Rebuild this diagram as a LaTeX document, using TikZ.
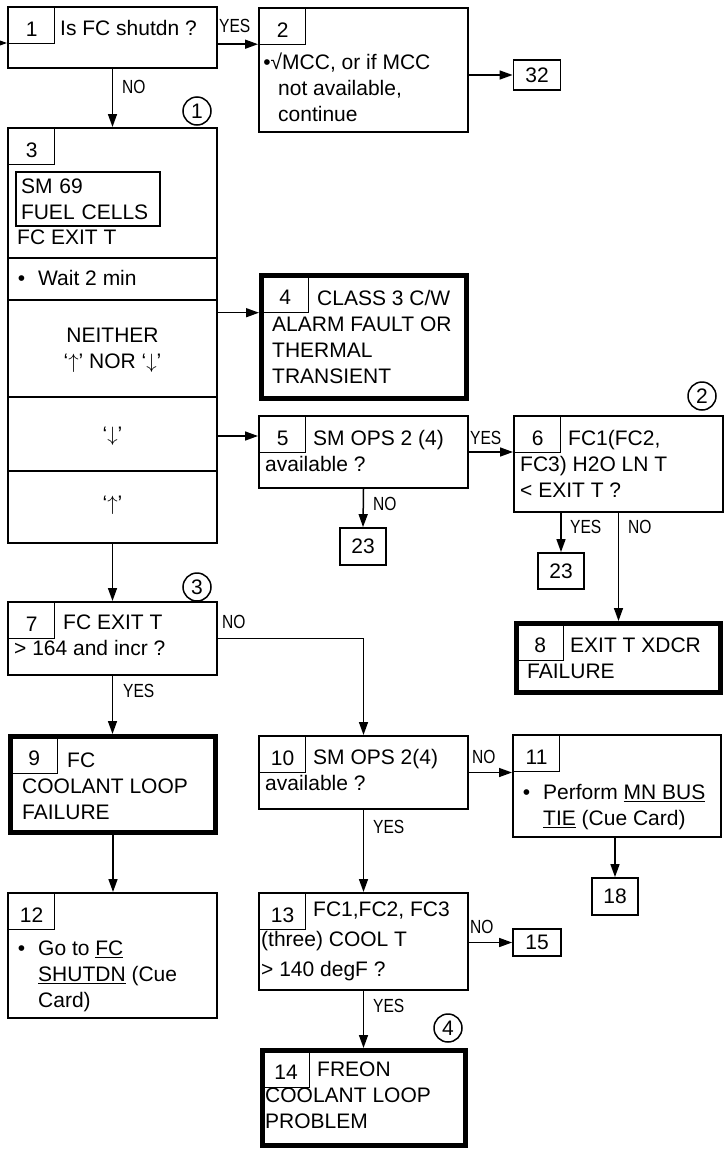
\documentclass[tikz,border=0pt]{standalone}
\usepackage{fontspec}
\setmainfont{Liberation Sans}
\newfontfamily\lblfont[FakeStretch=0.82]{Liberation Sans}
\usetikzlibrary{arrows.meta}

\begin{document}
\begin{tikzpicture}[x=1pt, y=-1pt,
  font=\fontsize{21}{26}\selectfont,
  box/.style={draw, line width=2pt, inner sep=0pt},
  endbox/.style={draw, line width=5pt, inner sep=0pt},
  num/.style={draw, line width=1.2pt, anchor=north west, minimum width=46pt, minimum height=36pt, inner sep=0pt, text height=21pt, text depth=0pt},
  goto/.style={draw, line width=1.8pt, minimum width=46pt, minimum height=36pt, inner sep=0pt},
  txt/.style={anchor=north west, inner sep=0pt, align=left},
  lbl/.style={anchor=base west, inner sep=0pt, font=\lblfont\fontsize{19}{19}\selectfont},
  marker/.style={draw, circle, line width=1.5pt, minimum size=28pt, inner sep=0pt},
  arrow/.style={-{Triangle[length=13pt,width=9pt]}, line width=1.5pt}
]
  \useasboundingbox (0,0) rectangle (727,1154);

  \node[box, minimum width=209pt, minimum height=61pt]  (b1)  at (112.5,37.5)  {};
  \node[box, minimum width=209pt, minimum height=124pt] (b2)  at (363.5,70)    {};
  \node[box, minimum width=209pt, minimum height=415pt] (b3)  at (112.5,335.5) {};
  \node[endbox, minimum width=205pt, minimum height=123pt] (b4) at (364,337)  {};
  \node[box, minimum width=209pt, minimum height=72pt]  (b5)  at (363.5,452)   {};
  \node[box, minimum width=209pt, minimum height=96pt]  (b6)  at (618.5,464)   {};
  \node[box, minimum width=209pt, minimum height=73pt]  (b7)  at (112.5,638.5) {};
  \node[endbox, minimum width=204pt, minimum height=69pt] (b8) at (618.5,658) {};
  \node[endbox, minimum width=205pt, minimum height=96pt] (b9) at (113,784.5) {};
  \node[box, minimum width=209pt, minimum height=73pt]  (b10) at (363.5,772.5) {};
  \node[box, minimum width=208pt, minimum height=102pt] (b11) at (617,786)     {};
  \node[box, minimum width=209pt, minimum height=125pt] (b12) at (112.5,955.5) {};
  \node[box, minimum width=209pt, minimum height=97pt]  (b13) at (363.5,941.5) {};
  \node[endbox, minimum width=203pt, minimum height=95pt] (b14) at (364,1098) {};

  \node[num] (n1)  at (8,7)         {1};
  \node[num] (n2)  at (259,8)       {2};
  \node[num] (n3)  at (8,128)       {3};
  \node[num] (n4)  at (261.5,275.5) {4};
  \node[num] (n5)  at (259,416)     {5};
  \node[num] (n6)  at (514,416)     {6};
  \node[num] (n7)  at (8,602)       {7};
  \node[num] (n8)  at (516.5,623.5) {8};
  \node[num] (n9)  at (10.5,736.5)  {9};
  \node[num] (n10) at (259,736)     {10};
  \node[num] (n11) at (513,735)     {11};
  \node[num] (n12) at (8,893)       {12};
  \node[num] (n13) at (259,893)     {13};
  \node[num] (n14) at (262.5,1050.5){14};

  \node[goto, minimum width=47pt, minimum height=30pt] (g32) at (537,75) {32};
  \node[goto, minimum height=37pt] (g23a) at (363,546.5) {23};
  \node[goto] (g23b) at (561,571) {23};
  \node[goto, minimum height=37pt] (g18) at (615,896.5) {18};
  \node[goto, minimum width=48pt, minimum height=27pt] (g15) at (537,942.5) {15};

  \node[marker] (r1) at (197,111)  {1};
  \node[marker] (r2) at (702,396)  {2};
  \node[marker] (r3) at (197,587)  {3};
  \node[marker] (r4) at (448,1028) {4};

  \node[txt] (t1)  at (60,20)   {Is FC shutdn ?};
  \node[txt] (t2)  at (278,53)  {\hspace*{4pt}\llap{•√}MCC, or if MCC\\not available,\\continue};
  \node[draw, line width=2pt, anchor=north west, align=left, text width=134pt, inner xsep=5pt, inner ysep=0pt, minimum height=54pt] (sm) at (15,171) {SM 69\\FUEL CELLS};
  \node[txt] (t3a) at (17,230)  {FC EXIT T};
  \node[txt] (t3b) at (38,270)  {\llap{•\hspace{13pt}}Wait 2 min};
  \node[txt, anchor=north, align=center] (t3c) at (112.5,328) {NEITHER\\‘$\uparrow$’ NOR ‘$\downarrow$’};
  \node (t3d) at (112.5,436) {‘$\downarrow$’};
  \node (t3e) at (112.5,505) {‘$\uparrow$’};
  \node[txt] (t4)  at (272,290) {\hspace*{45pt}CLASS 3 C/W\\ALARM FAULT OR\\THERMAL\\TRANSIENT};
  \node[txt] (t5)  at (265,430) {\hspace*{48pt}SM OPS 2 (4)\\available ?};
  \node[txt] (t6)  at (520,430) {\hspace*{48pt}FC1(FC2,\\FC3) H2O LN T\\< EXIT T ?};
  \node[txt] (t7)  at (14,615)  {\hspace*{49pt}FC EXIT T\\> 164 and incr ?};
  \node[txt] (t8)  at (527,638) {\hspace*{43pt}EXIT T XDCR\\FAILURE};
  \node[txt] (t9)  at (22,753)  {\hspace*{45pt}FC\\COOLANT LOOP\\FAILURE};
  \node[txt] (t10) at (265,749) {\hspace*{48pt}SM OPS 2(4)\\available ?};
  \node[txt] (t11) at (543,784) {\llap{•\hspace{13pt}}Perform \underline{MN BUS}\\\underline{TIE} (Cue Card)};
  \node[txt] (t12) at (38,941)  {\llap{•\hspace{13pt}}Go to \underline{FC}\\\underline{SHUTDN} (Cue\\Card)};
  \node[txt, font=\fontsize{21}{30}\selectfont] (t13) at (261,902) {\hspace*{52pt}FC1,FC2, FC3\\(three) COOL T\\> 140 degF ?};
  \node[txt] (t14) at (265,1062) {\hspace*{52pt}FREON\\COOLANT LOOP\\PROBLEM};

  \draw[line width=2pt] (8,258) -- (217,258);
  \draw[line width=2pt] (8,300) -- (217,300);
  \draw[line width=2pt] (8,397) -- (217,397);
  \draw[line width=2pt] (8,471) -- (217,471);

  \node[lbl] (l1)  at (219,32)  {YES};
  \node[lbl] (l2)  at (122,93)  {NO};
  \node[lbl] (l3)  at (470,444) {YES};
  \node[lbl] (l4)  at (373,510) {NO};
  \node[lbl] (l5)  at (570,533) {YES};
  \node[lbl] (l6)  at (628,533) {NO};
  \node[lbl] (l7)  at (222,628) {NO};
  \node[lbl] (l8)  at (123,697) {YES};
  \node[lbl] (l9)  at (472,763) {NO};
  \node[lbl] (l10) at (373,833) {YES};
  \node[lbl] (l11) at (470,933) {NO};
  \node[lbl] (l12) at (373,1012){YES};

  \coordinate (in) at (0,43);
  \draw[arrow] (in) -- (in -| b1.west);
  \draw[arrow] (b1.east |- n1.south) -- (b2.west |- n1.south);
  \draw[arrow] (b2.east |- g32.west) -- (g32.west);
  \draw[arrow] (b1.south) -- (b3.north);
  \draw[arrow] (b3.east |- n4.south) -- (b4.west |- n4.south);
  \draw[arrow] (b3.east |- t3d) -- (b5.west |- t3d);
  \draw[arrow] (b5.east) -- (b5.east -| b6.west);
  \draw[arrow] (b5.south) -- (g23a.north);
  \draw[arrow] (g23b.north |- b6.south) -- (g23b.north);
  \draw[arrow] (b6.south) -- (b8.north);
  \draw[arrow] (b3.south) -- (b7.north);
  \draw[arrow] (b7.east) -| (b10.north);
  \draw[arrow] (b7.south) -- (b7.south |- b9.north);
  \draw[arrow] (b9.south) -- (b9.south |- b12.north);
  \draw[arrow] (b10.east) -- (b10.east -| b11.west);
  \draw[arrow] (g18.north |- b11.south) -- (g18.north);
  \draw[arrow] (b10.south) -- (b13.north);
  \draw[arrow] (b13.east |- g15.west) -- (g15.west);
  \draw[arrow] (b13.south) -- (b13.south |- b14.north);
\end{tikzpicture}
\end{document}
